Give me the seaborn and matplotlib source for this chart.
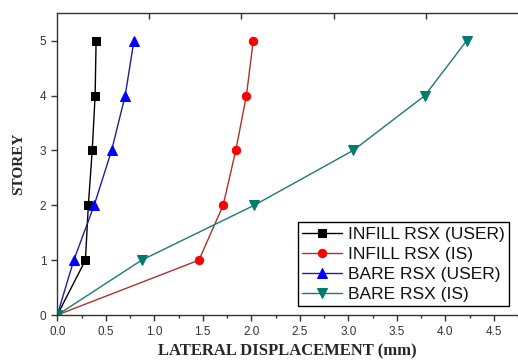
import matplotlib
matplotlib.use("Agg")
import matplotlib.pyplot as plt
import seaborn as sns
import pandas as pd

storey = [0, 1, 2, 3, 4, 5]
infill_user = [0.0, 0.29, 0.32, 0.36, 0.39, 0.40]
infill_is = [0.0, 1.46, 1.71, 1.84, 1.95, 2.02]
bare_user = [0.0, 0.17, 0.38, 0.56, 0.70, 0.79]
bare_is = [0.0, 0.87, 2.03, 3.05, 3.79, 4.22]

series_names = ["INFILL RSX (USER)", "INFILL RSX (IS)", "BARE RSX (USER)", "BARE RSX (IS)"]
series_vals = [infill_user, infill_is, bare_user, bare_is]
x_ticks = [0.0, 0.5, 1.0, 1.5, 2.0, 2.5, 3.0, 3.5, 4.0, 4.5]
y_ticks = [0, 1, 2, 3, 4, 5]

sns.set_style("ticks")
plt.rcParams['font.family'] = ['Liberation Sans', 'DejaVu Sans']

fig = plt.figure(figsize=(5.18, 3.63), dpi=100)
W, H = 518, 363
left_px, right_px, top_px, bottom_px = 57.3, 518, 13.3, 315
ax = fig.add_axes([left_px / W, (H - bottom_px) / H, (right_px - left_px) / W, (bottom_px - top_px) / H])

line_colors = ["#000000", "#b03030", "#202090", "#1a7a72"]
marker_colors = ["#000000", "#ff0000", "#0000ff", "#007b70"]
markers = ["s", "o", "^", "v"]
msizes = [6, 6, 7, 7]

for name, vals, lc, mc, mk, ms in zip(series_names, series_vals, line_colors, marker_colors, markers, msizes):
    df = pd.DataFrame({"disp": vals, "storey": storey})
    sns.lineplot(data=df, x="disp", y="storey", orient="y", sort=False, ax=ax,
                 color=lc, lw=1.0, marker=mk, markersize=ms, markerfacecolor=mc,
                 markeredgecolor=mc, label=name)

ax.set_xlim(0, (right_px - left_px) / 99.3)
ax.set_ylim(0, 5.5)
ax.set_xticks(x_ticks)
ax.set_xticklabels([f"{v:.1f}" for v in x_ticks])
ax.set_xticks([v + 0.25 for v in x_ticks], minor=True)
ax.set_yticks(y_ticks)
ax.set_yticklabels([str(v) for v in y_ticks])

for side in ["left", "bottom", "top"]:
    ax.spines[side].set_color("#333333")
    ax.spines[side].set_linewidth(1.0)
ax.spines["right"].set_visible(False)

ax.tick_params(axis="both", which="major", direction="out", length=4, width=1,
               color="#333333", labelsize=8.5, labelcolor="#333333", pad=4)
ax.tick_params(axis="x", which="minor", direction="out", length=2.5, width=1, color="#333333")

sec = ax.secondary_xaxis("top")
sec.set_xticks([0.95, 1.89, 2.85, 3.80])
sec.set_xticklabels([])
sec.tick_params(direction="in", length=4, width=1, color="#333333")
sec.spines["top"].set_visible(False)

ax.set_xlabel("LATERAL DISPLACEMENT (mm)", family=["Liberation Serif", "DejaVu Serif"],
              fontweight="bold", fontsize=12, labelpad=4)
ax.set_ylabel("STOREY", family=["Liberation Serif", "DejaVu Serif"],
              fontweight="bold", fontsize=11, labelpad=10)

leg = ax.legend(loc="lower right", bbox_to_anchor=((509 - left_px) / (right_px - left_px), (bottom_px - 306) / (bottom_px - top_px)),
                frameon=True, fancybox=False, edgecolor="#000000", framealpha=1,
                fontsize=12.5, handlelength=2.3, handletextpad=0.35, borderpad=0.25,
                labelspacing=0.28, borderaxespad=0)
leg.get_frame().set_linewidth(1.0)
for t in leg.get_texts():
    t.set_color("#111111")

fig.savefig("out.png", dpi=100)
